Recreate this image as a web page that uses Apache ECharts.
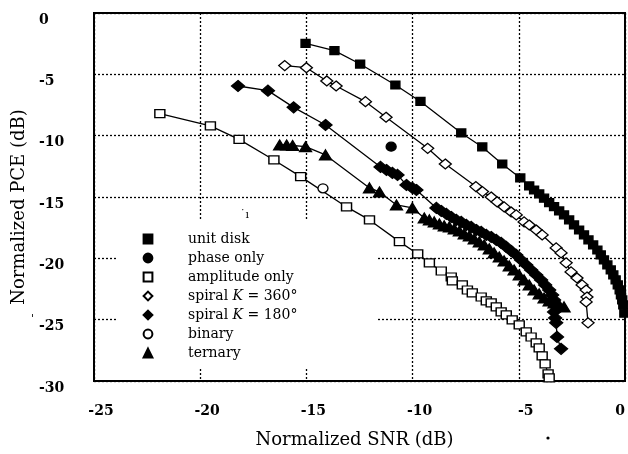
<!DOCTYPE html>
<html>
<head>
<meta charset="utf-8">
<script src="https://cdn.jsdelivr.net/npm/echarts@6/dist/echarts.min.js"></script>
<style>
  html, body { margin: 0; padding: 0; background: #ffffff; }
  #chart { width: 628px; height: 454px; }
</style>
</head>
<body>
<div id="chart"></div>
<script>
// values: [SNR dB, PCE dB]
const unitDisk = [
  [-15.04, -2.47], [-13.68, -3.07], [-12.47, -4.16], [-10.81, -5.87], [-9.63, -7.21],
  [-7.71, -9.78], [-6.72, -10.92], [-5.78, -12.31], [-4.93, -13.45], [-4.51, -14.1],
  [-4.28, -14.43], [-4.04, -14.75], [-3.81, -15.1], [-3.57, -15.46], [-3.34, -15.78],
  [-3.1, -16.14], [-2.87, -16.46], [-2.63, -16.87], [-2.4, -17.28], [-2.16, -17.69],
  [-1.93, -18.09], [-1.72, -18.5], [-1.5, -18.91], [-1.3, -19.32], [-1.14, -19.72],
  [-0.99, -20.13], [-0.83, -20.54], [-0.67, -20.95], [-0.55, -21.35], [-0.44, -21.76],
  [-0.34, -22.17], [-0.25, -22.58], [-0.19, -22.98], [-0.13, -23.39], [-0.08, -23.8],
  [-0.03, -24.47]
];
const phaseOnly = [[-11.01, -10.9]];
const amplitudeOnly = [
  [-21.9, -8.2], [-19.52, -9.2], [-18.17, -10.3], [-16.53, -11.98], [-15.27, -13.34],
  [-13.11, -15.81], [-12.03, -16.87], [-10.62, -18.64], [-9.76, -19.64], [-9.21, -20.37],
  [-8.65, -21.03], [-8.18, -21.52], [-8.13, -21.84], [-7.66, -22.17], [-7.42, -22.58],
  [-7.19, -22.82], [-6.77, -23.15], [-6.53, -23.47], [-6.3, -23.63], [-6.06, -23.96],
  [-5.83, -24.37], [-5.59, -24.61], [-5.31, -25.02], [-4.98, -25.43], [-4.65, -26.0],
  [-4.42, -26.41], [-4.18, -26.89], [-4.04, -27.3], [-3.9, -27.95], [-3.76, -28.61],
  [-3.62, -29.42], [-3.57, -29.75]
];
const spiral360 = [
  [-16.02, -4.29], [-15.0, -4.46], [-14.04, -5.54], [-13.6, -5.95], [-12.22, -7.23],
  [-11.25, -8.5], [-9.29, -11.03], [-8.46, -12.31], [-7.02, -14.15], [-6.71, -14.56],
  [-6.3, -15.0], [-6.02, -15.4], [-5.69, -15.81], [-5.36, -16.22], [-5.12, -16.46],
  [-4.75, -17.03], [-4.51, -17.28], [-4.18, -17.69], [-3.9, -18.09], [-3.24, -19.15],
  [-3.01, -19.56], [-2.77, -20.37], [-2.54, -21.11], [-2.26, -21.6], [-2.02, -22.17],
  [-1.83, -22.58], [-1.79, -23.15], [-1.83, -23.55], [-1.74, -25.26]
];
const spiral180 = [
  [-18.22, -5.95], [-16.81, -6.33], [-15.6, -7.69], [-14.1, -9.13], [-11.51, -12.55],
  [-11.23, -12.8], [-10.95, -13.04], [-10.71, -13.2], [-10.29, -14.02], [-10.01, -14.26],
  [-9.82, -14.43], [-8.88, -15.89], [-8.65, -16.14], [-8.41, -16.38], [-8.18, -16.63],
  [-7.94, -16.87], [-7.71, -17.03], [-7.47, -17.28], [-7.24, -17.44], [-7.0, -17.69],
  [-6.77, -17.85], [-6.53, -18.09], [-6.3, -18.26], [-6.06, -18.5], [-5.83, -18.74],
  [-5.59, -19.07], [-5.36, -19.4], [-5.12, -19.72], [-4.89, -20.13], [-4.65, -20.54],
  [-4.42, -20.95], [-4.18, -21.35], [-3.95, -21.76], [-3.76, -22.17], [-3.57, -22.58],
  [-3.43, -22.98], [-3.34, -23.39], [-3.29, -23.88], [-3.34, -24.37], [-3.29, -24.86],
  [-3.24, -25.26], [-3.2, -26.41], [-3.01, -27.38]
];
const binary = [[-14.22, -14.29]];
const ternary = [
  [-16.26, -10.76], [-15.93, -10.76], [-15.65, -10.8], [-15.04, -10.9], [-14.1, -11.57],
  [-12.03, -14.26], [-11.56, -14.59], [-10.76, -15.65], [-10.01, -15.89], [-9.45, -16.71],
  [-9.21, -16.87], [-8.98, -17.03], [-8.74, -17.2], [-8.51, -17.36], [-8.27, -17.44],
  [-8.04, -17.6], [-7.8, -17.77], [-7.57, -18.01], [-7.33, -18.17], [-7.1, -18.42],
  [-6.86, -18.66], [-6.63, -18.91], [-6.39, -19.23], [-6.16, -19.56], [-5.92, -19.89],
  [-5.69, -20.21], [-5.45, -20.62], [-5.22, -20.95], [-4.98, -21.35], [-4.75, -21.76],
  [-4.51, -22.17], [-4.28, -22.58], [-4.04, -22.9], [-3.81, -23.23], [-3.57, -23.47],
  [-3.34, -23.63], [-3.1, -23.8], [-2.87, -23.96]
];

const font = "DejaVu Serif";

const mkSeries = (name, data, symbol, size, filled) => ({
  name,
  type: "line",
  data,
  symbol,
  symbolSize: size,
  showSymbol: true,
  clip: true,
  lineStyle: { color: "#000", width: 1.3 },
  itemStyle: { color: filled ? "#000" : "#fff", borderColor: "#000", borderWidth: 1.3 },
  emphasis: { disabled: true }
});

const myChart = echarts.init(document.getElementById("chart"));
const option = {
  animation: false,
  backgroundColor: "#fff",
  grid: {
    left: 94,
    right: 2,
    top: 13,
    bottom: 72,
    show: true,
    borderColor: "#000",
    borderWidth: 2
  },
  xAxis: {
    type: "value",
    min: -25,
    max: 0,
    interval: 5,
    name: "Normalized SNR (dB)",
    nameLocation: "middle",
    nameGap: 50,
    nameTextStyle: { fontFamily: font, fontSize: 18, color: "#000", padding: [0, 10, 0, 0] },
    axisLine: { show: false },
    axisTick: { show: false },
    axisLabel: {
      margin: 23,
      padding: [0, 0, 0, 14],
      fontFamily: font,
      fontSize: 14,
      fontWeight: "bold",
      color: "#000",
      alignMaxLabel: "right"
    },
    splitLine: { show: true, lineStyle: { color: "#000", width: 1.3, type: [2, 2] } }
  },
  yAxis: {
    type: "value",
    min: -30,
    max: 0,
    interval: 5,
    name: "Normalized PCE (dB)",
    nameLocation: "middle",
    nameGap: 62,
    nameTextStyle: { fontFamily: font, fontSize: 18, color: "#000", padding: [0, 20, 0, 0] },
    axisLine: { show: false },
    axisTick: { show: false },
    axisLabel: {
      align: "left",
      verticalAlign: "top",
      margin: 55,
      fontFamily: font,
      fontSize: 14,
      fontWeight: "bold",
      color: "#000"
    },
    splitLine: { show: true, lineStyle: { color: "#000", width: 1.3, type: [2, 2] } }
  },
  legend: {
    orient: "vertical",
    left: 112,
    top: 232,
    itemWidth: 70,
    itemHeight: 11,
    itemGap: 5,
    padding: 0,
    selectedMode: false,
    lineStyle: { opacity: 0 },
    formatter: name => {
      if (name.indexOf("spiral") === 0) {
        return "{t|spiral }{i|K}{t|" + name.slice(8) + "}";
      }
      return name;
    },
    textStyle: {
      fontFamily: font,
      fontSize: 14,
      color: "#000",
      rich: {
        t: { fontFamily: font, fontSize: 14, color: "#000" },
        i: { fontFamily: font, fontSize: 14, color: "#000", fontStyle: "italic" }
      }
    },
    data: ["unit disk", "phase only", "amplitude only", "spiral K = 360°", "spiral K = 180°", "binary", "ternary"]
  },
  graphic: {
    elements: [
      // blank patch behind the legend, the grid is not drawn there
      { type: "rect", z: 1, silent: true, shape: { x: 117, y: 220, width: 261, height: 147 }, style: { fill: "#fff" } },
      { type: "text", z: 5, silent: true, x: 240, y: 210, style: { text: "˙ı", font: "11px " + font, fill: "#000" } },
      { type: "text", z: 5, silent: true, x: 31, y: 314, style: { text: "'", font: "11px " + font, fill: "#000" } },
      { type: "circle", z: 5, silent: true, shape: { cx: 548, cy: 438, r: 1.6 }, style: { fill: "#000" } }
    ]
  },
  series: [
    mkSeries("unit disk", unitDisk, "rect", [9, 8], true),
    mkSeries("phase only", phaseOnly, "circle", [10, 9], true),
    mkSeries("amplitude only", amplitudeOnly, "rect", [10, 8], false),
    mkSeries("spiral K = 360°", spiral360, "diamond", [12, 10], false),
    mkSeries("spiral K = 180°", spiral180, "diamond", [13, 11], true),
    mkSeries("binary", binary, "circle", [10, 9], false),
    mkSeries("ternary", ternary, "triangle", [12, 10], true)
  ]
};
myChart.setOption(option);
</script>
</body>
</html>
